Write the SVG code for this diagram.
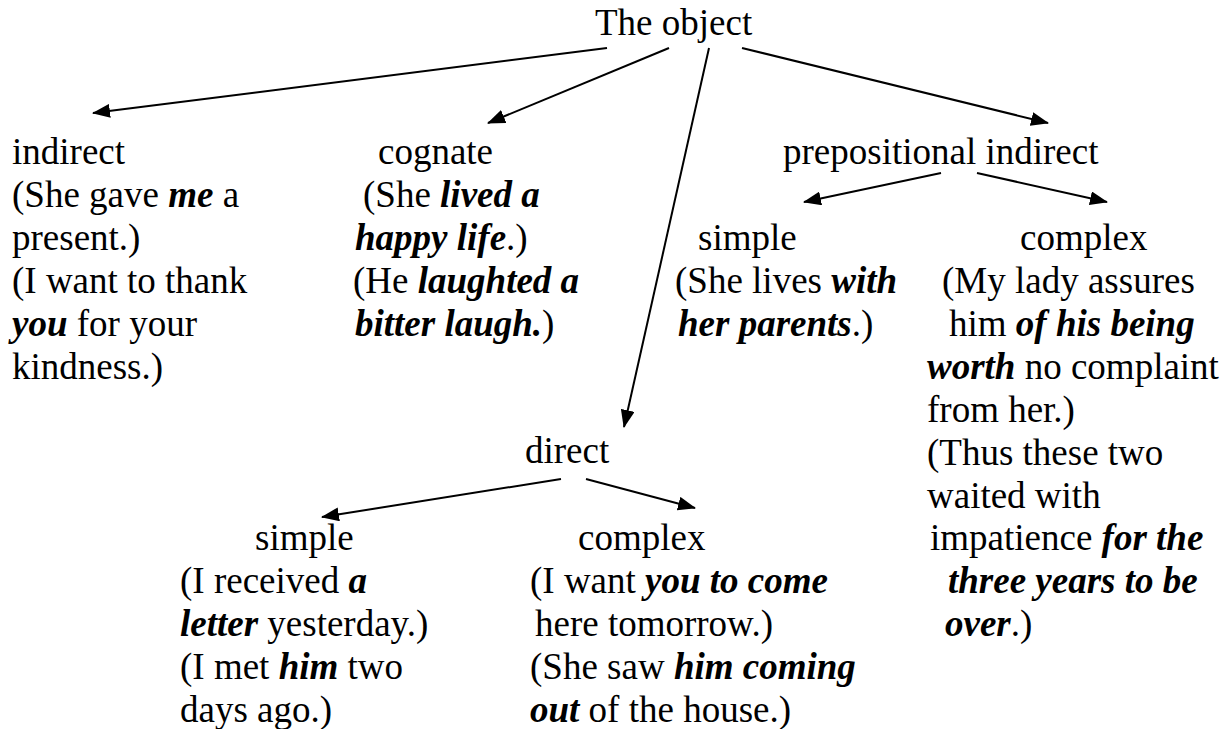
<svg xmlns="http://www.w3.org/2000/svg" width="1232" height="729" viewBox="0 0 1232 729">
<style>
text { font-family: 'Liberation Serif', 'Times New Roman', Times, Tinos, 'DejaVu Serif', serif; font-size: 37px; fill: #000; }
.b { font-weight: bold; font-style: italic; }
.edge { stroke: #000; stroke-width: 2; fill: none; marker-end: url(#arr); }
</style>
<defs>
<marker id="arr" markerUnits="userSpaceOnUse" markerWidth="18" markerHeight="14" refX="17" refY="7" orient="auto">
<path d="M0,0 L18,7 L0,14 z" fill="#000"/>
</marker>
</defs>
<rect width="1232" height="729" fill="#fff"/>
<g id="connectors">
<line class="edge" x1="607" y1="48" x2="93" y2="113"/>
<line class="edge" x1="669" y1="48" x2="488" y2="123"/>
<line class="edge" x1="709" y1="48" x2="624" y2="427"/>
<line class="edge" x1="742" y1="48" x2="1048" y2="123"/>
<line class="edge" x1="941" y1="173" x2="804" y2="202"/>
<line class="edge" x1="977" y1="173" x2="1107" y2="202"/>
<line class="edge" x1="561" y1="479" x2="322" y2="517"/>
<line class="edge" x1="586" y1="479" x2="695" y2="508"/>
</g>
<g id="node-object">
<text x="595" y="35">The object</text>
</g>
<g id="node-indirect">
<text x="12" y="164">indirect</text>
<text x="12" y="207">(She gave <tspan class="b">me</tspan> a</text>
<text x="12" y="250">present.)</text>
<text x="12" y="293">(I want to thank</text>
<text x="12" y="336"><tspan class="b">you</tspan> for your</text>
<text x="12" y="379">kindness.)</text>
</g>
<g id="node-cognate">
<text x="378" y="164">cognate</text>
<text x="363" y="207">(She <tspan class="b">lived a</tspan></text>
<text x="355" y="250"><tspan class="b">happy life</tspan>.)</text>
<text x="353" y="293">(He <tspan class="b">laughted a</tspan></text>
<text x="355" y="336"><tspan class="b">bitter laugh.</tspan>)</text>
</g>
<g id="node-prepositional">
<text x="783" y="164">prepositional indirect</text>
</g>
<g id="node-prep-simple">
<text x="698" y="250">simple</text>
<text x="675" y="293">(She lives <tspan class="b">with</tspan></text>
<text x="678" y="336"><tspan class="b">her parents</tspan>.)</text>
</g>
<g id="node-prep-complex">
<text x="1020" y="250">complex</text>
<text x="942" y="293">(My lady assures</text>
<text x="949" y="336">him <tspan class="b">of his being</tspan></text>
<text x="927" y="379"><tspan class="b">worth</tspan> no complaint</text>
<text x="927" y="422">from her.)</text>
<text x="927" y="465">(Thus these two</text>
<text x="927" y="508">waited with</text>
<text x="930" y="550">impatience <tspan class="b">for the</tspan></text>
<text x="948" y="593" class="b">three years to be</text>
<text x="945" y="636"><tspan class="b">over</tspan>.)</text>
</g>
<g id="node-direct">
<text x="525" y="463">direct</text>
</g>
<g id="node-direct-simple">
<text x="255" y="550">simple</text>
<text x="180" y="593">(I received <tspan class="b">a</tspan></text>
<text x="180" y="636"><tspan class="b">letter</tspan> yesterday.)</text>
<text x="180" y="679">(I met <tspan class="b">him</tspan> two</text>
<text x="180" y="722">days ago.)</text>
</g>
<g id="node-direct-complex">
<text x="578" y="550">complex</text>
<text x="530" y="593">(I want <tspan class="b">you to come</tspan></text>
<text x="535" y="636">here tomorrow.)</text>
<text x="530" y="679">(She saw <tspan class="b">him coming</tspan></text>
<text x="530" y="722"><tspan class="b">out</tspan> of the house.)</text>
</g>
</svg>
